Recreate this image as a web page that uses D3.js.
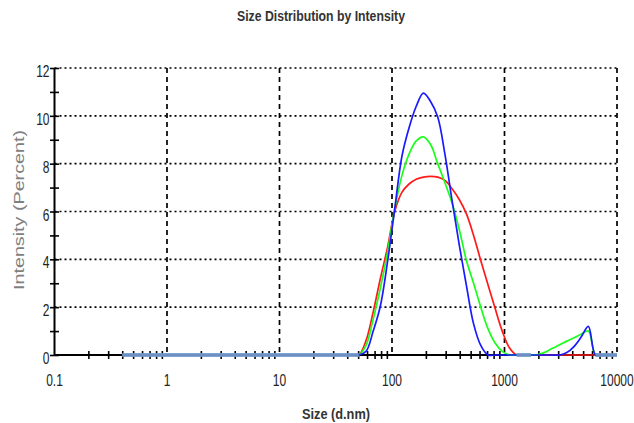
<!DOCTYPE html>
<html>
<head>
<meta charset="utf-8">
<script src="https://cdn.jsdelivr.net/npm/d3@7"></script>
<style>
  body { margin: 0; background: #fff; }
  text { font-family: "Liberation Sans", Arial, sans-serif; }
</style>
</head>
<body>
<div class="dlsGraph"></div>
<script>

// size classes (d.nm)
var sizes = [0.4, 0.4632, 0.5365, 0.6213, 0.7195, 0.8332, 0.9649, 1.117, 1.294, 1.499,
  1.736, 2.01, 2.328, 2.696, 3.122, 3.615, 4.187, 4.849, 5.615, 6.503,
  7.531, 8.721, 10.1, 11.7, 13.54, 15.69, 18.17, 21.04, 24.36, 28.21,
  32.67, 37.84, 43.82, 50.75, 58.77, 68.06, 78.82, 91.28, 105.7, 122.4,
  141.8, 164.2, 190.1, 220.2, 255, 295.3, 342, 396.1, 458.7, 531.2,
  615.1, 712.4, 825, 955.4, 1106, 1281, 1484, 1718, 1990, 2305,
  2669, 3091, 3580, 4145, 4801, 5560, 6439, 7456, 8635, 10000];

// intensity (%) per size class, one array per record
var redValues = [0, 0, 0, 0, 0, 0, 0, 0, 0, 0,
  0, 0, 0, 0, 0, 0, 0, 0, 0, 0,
  0, 0, 0, 0, 0, 0, 0, 0, 0, 0,
  0, 0, 0, 0, 0.6, 1.8, 3.2, 4.5, 6.0, 6.8,
  7.15, 7.35, 7.44, 7.47, 7.44, 7.3, 6.95, 6.5, 5.9, 5.0,
  3.95, 2.95, 1.95, 1.0, 0.3, 0, 0, 0, 0, 0,
  0, 0, 0, 0, 0, 0, 0, 0, 0, 0];

var greenValues = [0, 0, 0, 0, 0, 0, 0, 0, 0, 0,
  0, 0, 0, 0, 0, 0, 0, 0, 0, 0,
  0, 0, 0, 0, 0, 0, 0, 0, 0, 0,
  0, 0, 0, 0, 0.4, 1.5, 2.8, 4.3, 6.1, 7.5,
  8.4, 8.95, 9.12, 8.8, 8.0, 7.2, 6.35, 5.25, 3.95, 3.0,
  2.0, 1.1, 0.5, 0.15, 0, 0, 0, 0, 0.02, 0.12,
  0.28, 0.43, 0.58, 0.72, 0.87, 1.0, 0, 0, 0, 0];

var blueValues = [0, 0, 0, 0, 0, 0, 0, 0, 0, 0,
  0, 0, 0, 0, 0, 0, 0, 0, 0, 0,
  0, 0, 0, 0, 0, 0, 0, 0, 0, 0,
  0, 0, 0, 0, 0.15, 1.0, 2.05, 3.9, 6.1, 8.3,
  9.5, 10.4, 10.95, 10.6, 9.95, 8.4, 6.45, 4.6, 2.9, 1.3,
  0.4, 0, 0, 0, 0, 0, 0, 0, 0, 0,
  0, 0, 0.1, 0.35, 0.75, 1.2, 0, 0, 0, 0];

var xTicks = [0.1, 1, 10, 100, 1000, 10000];
var xTickLabels = ["0.1", "1", "10", "100", "1000", "10000"];
var yTicks = [0, 2, 4, 6, 8, 10, 12];

// plot parameters
var width = 634;
var height = 423;
var margin = { left: 54.5, right: 17, top: 68, bottom: 68 };

var svg = d3.select('.dlsGraph').append('svg')
            .attr('width', width)
            .attr('height', height);

var x = d3.scaleLog()
          .domain([0.1, 10000])
          .range([margin.left, width - margin.right]);

var y = d3.scaleLinear()
          .domain([0, 12])
          .range([height - margin.bottom, margin.top]);

// the source picture is squashed sideways, so text is stretched upward
function label(g, tx, ty, str, opts) {
  var t = g.append('g')
     .attr('transform', 'translate(' + tx + ',' + ty + ')' + (opts.rotate ? ' rotate(-90)' : '') +
           ' scale(1,' + (opts.sy || 1) + ')')
     .append('text')
     .attr('text-anchor', opts.anchor || 'middle')
     .attr('font-size', opts.size)
     .attr('font-weight', opts.weight || 'normal')
     .attr('fill', opts.fill || '#222')
     .text(str);
  if (opts.len) t.attr('textLength', opts.len).attr('lengthAdjust', 'spacingAndGlyphs');
  return t;
}

// grid
var grid = svg.append('g').attr('class', 'grid');
grid.selectAll('.hgrid').data(yTicks.slice(1)).enter()
    .append('line')
    .attr('x1', x(0.1)).attr('x2', x(10000))
    .attr('y1', function(d) { return y(d); })
    .attr('y2', function(d) { return y(d); })
    .attr('stroke', '#000')
    .attr('stroke-width', 1.7)
    .style('stroke-dasharray', ('2, 3'));

grid.selectAll('.vgrid').data(xTicks.slice(1)).enter()
    .append('line')
    .attr('x1', function(d) { return x(d); })
    .attr('x2', function(d) { return x(d); })
    .attr('y1', y(12)).attr('y2', y(0))
    .attr('stroke', '#000')
    .attr('stroke-width', 1.7)
    .style('stroke-dasharray', ('5, 4'));

// axes
var minorX = [];
xTicks.slice(0, -1).forEach(function(t) {
  for (var k = 2; k < 10; k++) minorX.push(t * k);
});

var xAxis = d3.axisBottom(x).tickValues(minorX).tickSizeInner(8).tickSizeOuter(0).tickFormat('');
var yAxis = d3.axisLeft(y).ticks(12).tickSizeInner(9).tickSizeOuter(0).tickFormat('');

var axes = svg.append('g').attr('class', 'axes');
axes.append('g').attr('class', 'x axis')
    .attr('transform', 'translate(0,' + (y(0) - 4) + ')')
    .call(xAxis);
axes.append('g').attr('class', 'y axis')
    .attr('transform', 'translate(' + (x(0.1) + 4.5) + ',0)')
    .call(yAxis);
axes.selectAll('.domain').remove();
axes.selectAll('line').attr('stroke', '#000').attr('stroke-width', 1.6);

axes.append('line')
    .attr('x1', x(0.1)).attr('x2', x(10000))
    .attr('y1', y(0)).attr('y2', y(0))
    .attr('stroke', '#000').attr('stroke-width', 2);
axes.append('line')
    .attr('x1', x(0.1)).attr('x2', x(0.1))
    .attr('y1', y(0)).attr('y2', y(12))
    .attr('stroke', '#000').attr('stroke-width', 2);

// tick labels
var tl = svg.append('g').attr('class', 'ticklabels');
yTicks.forEach(function(d) {
  label(tl, x(0.1) - 5, y(d) + 9, d, { size: 12, sy: 1.4, anchor: 'end' });
});
xTicks.forEach(function(d, i) {
  label(tl, x(d), y(0) + 31, xTickLabels[i], { size: 12, sy: 1.4 });
});

// series lines
var series = [
  { name: 'red', color: '#ff1a1a', values: redValues },
  { name: 'green', color: '#1aff1a', values: greenValues },
  { name: 'blue', color: '#1a1aff', values: blueValues }
];

var line = d3.line()
             .x(function(d) { return x(d[0]); })
             .y(function(d) { return y(d[1]); })
             .curve(d3.curveCatmullRom.alpha(0.5));

series.forEach(function(s) {
  var pts = sizes.map(function(sz, i) { return [sz, s.values[i]]; });
  svg.append('path')
     .attr('class', 'series ' + s.name)
     .attr('d', line(pts))
     .attr('fill', 'none')
     .attr('stroke', s.color)
     .attr('stroke-width', 1.7);
});

// where every record is zero the lines pile up into one wide band
var runs = [];
var start = null;
sizes.forEach(function(sz, i) {
  var zero = redValues[i] === 0 && greenValues[i] === 0 && blueValues[i] === 0;
  if (zero && start === null) start = i;
  if ((!zero || i === sizes.length - 1) && start !== null) {
    var end = zero ? i : i - 1;
    if (end > start) runs.push([sizes[start], sizes[end]]);
    start = null;
  }
});
svg.append('g').selectAll('line').data(runs).enter()
   .append('line')
   .attr('x1', function(d) { return x(d[0]); })
   .attr('x2', function(d) { return x(d[1]); })
   .attr('y1', y(0)).attr('y2', y(0))
   .attr('stroke', '#7499c6')
   .attr('stroke-width', 4)
   .attr('opacity', 0.9);

// titles
var titles = svg.append('g').attr('class', 'titles');
label(titles, 321, 21, 'Size Distribution by Intensity', { size: 11, sy: 1.25, weight: 'bold', len: 168, fill: '#333' });
label(titles, 336, 419, 'Size (d.nm)', { size: 11, sy: 1.35, weight: 'bold', len: 68, fill: '#333' });
label(titles, 24, 210, 'Intensity (Percent)', { size: 11, sy: 1.35, len: 160, fill: '#808080', rotate: true });

</script>
</body>
</html>
